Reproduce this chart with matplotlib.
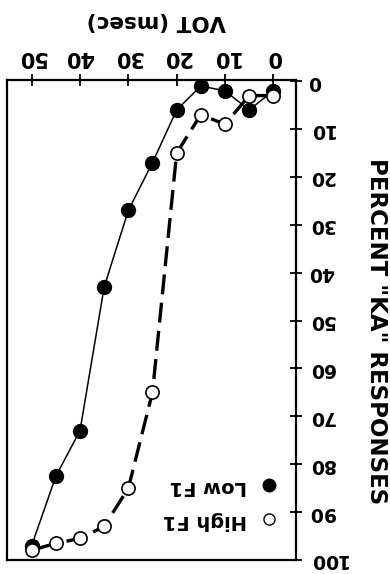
import matplotlib
matplotlib.use('Agg')
import matplotlib.pyplot as plt
from matplotlib.lines import Line2D

plt.rcParams['font.family'] = ['DejaVu Sans']
plt.rcParams['font.weight'] = 'bold'

# datos (VOT en msec, porcentaje de respuestas "KA")
vot = [0, 5, 10, 15, 20, 25, 30, 35, 40, 45, 50]
low_f1 = [2, 6, 2, 1, 6, 17, 27, 43, 73, 82.5, 97]
high_f1 = [3, 3, 9, 7, 15, 65, 85, 93, 95.5, 96.5, 98]
xticks = [0, 10, 20, 30, 40, 50]
yticks = [0, 10, 20, 30, 40, 50, 60, 70, 80, 90, 100]

fig = plt.figure(figsize=(3.9, 5.74), dpi=100)
ax = fig.add_axes([0.018, 0.0244, 0.741, 0.8366])

# la figura original esta girada 180 grados
ax.plot(vot, low_f1, color='black', lw=1.1, marker='o', ms=10,
        mfc='black', mec='black', zorder=3)
ax.plot(vot, high_f1, color='black', lw=2.4, dashes=(6, 2.5), marker='o',
        ms=9.5, mfc='white', mec='black', mew=1.2, zorder=3)

ax.set_xlim(55.1, -4.7)
ax.set_ylim(100, -0.3)
ax.xaxis.tick_top()
ax.yaxis.tick_right()
ax.set_xticks(xticks)
ax.set_yticks(yticks)
ax.tick_params(axis='x', direction='inout', length=8, width=1.3, pad=5,
               labelsize=15, labelrotation=180)
ax.tick_params(axis='y', direction='inout', length=8, width=1.3, pad=5,
               labelsize=13.5, labelrotation=180)
for lab in ax.get_yticklabels():
    lab.set_verticalalignment('center')
for s in ax.spines.values():
    s.set_linewidth(1.6)

fig.text(0.40, 0.963, 'VOT (msec)', rotation=180, ha='center', va='center',
         fontsize=15.5, fontweight='bold')
fig.text(0.965, 0.423, 'PERCENT "KA" RESPONSES', rotation=-90, ha='center',
         va='center', fontsize=16.5, fontweight='bold')

handles = [Line2D([], [], ls='none', marker='o', ms=9, mfc='black', mec='black'),
           Line2D([], [], ls='none', marker='o', ms=8, mfc='white', mec='black', mew=1.0)]
leg = ax.legend(handles, ['Low F1', 'High F1'], loc='lower right',
                bbox_to_anchor=(1.0, 0.027), markerfirst=False, frameon=False,
                fontsize=14, handletextpad=0.6, labelspacing=0.75, handlelength=1)
for t in leg.get_texts():
    t.set_rotation(180)

fig.savefig('out.png', dpi=100)
